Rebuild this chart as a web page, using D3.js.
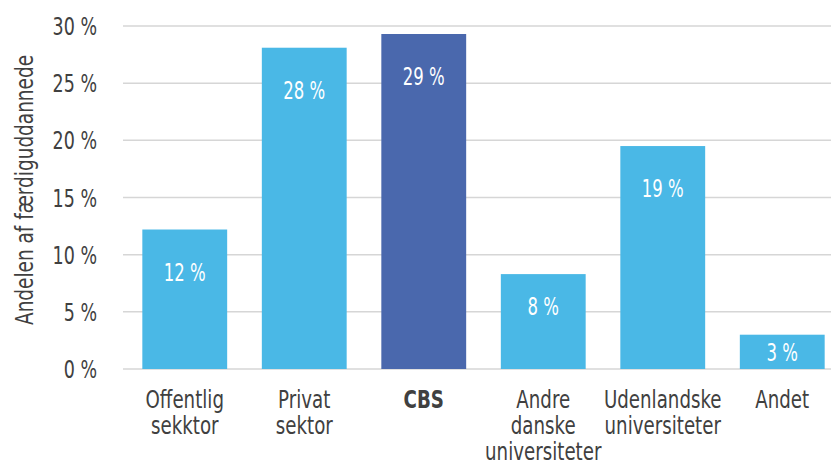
<!DOCTYPE html>
<html lang="da">
<head>
<meta charset="UTF-8">
<title>Færdiguddannede</title>
<script src="https://cdnjs.cloudflare.com/ajax/libs/d3/7.9.0/d3.min.js"></script>
<style>
    body { margin: 0; background: #fff; overflow: hidden; }
    text { font-family: 'DejaVu Sans', sans-serif; fill: #404040; }
</style>
</head>
<body>
<div id="root"></div>
<script>
    // data
    const categories = [
        ['Offentlig', 'sekktor'],
        ['Privat', 'sektor'],
        ['CBS'],
        ['Andre', 'danske', 'universiteter'],
        ['Udenlandske', 'universiteter'],
        ['Andet']
    ]
    const values = [12.2, 28.1, 29.3, 8.3, 19.5, 3.0]
    const valueLabels = ['12 %', '28 %', '29 %', '8 %', '19 %', '3 %']
    const yTicks = [0, 5, 10, 15, 20, 25, 30]
    const highlight = 2

    const w = 831, h = 466
    const margin = { top: 26, bottom: 97, left: 125 }
    // font is condensed in the original, squeeze text horizontally
    const squeeze = (x, y, s) => `translate(${x},${y}) scale(${s},1)`

    const svg = d3.select('#root').append('svg')
        .attr('width', w)
        .attr('height', h)

    const xScale = d3.scaleBand()
        .domain(d3.range(categories.length))
        .range([margin.left, 842])
        .paddingInner(0.29)
        .paddingOuter(0.145)

    const yScale = d3.scaleLinear()
        .domain([0, 30])
        .range([h - margin.bottom, margin.top])

    // gridlines
    svg.append('g')
        .selectAll('line')
        .data(yTicks)
        .enter()
        .append('line')
        .attr('x1', 123)
        .attr('x2', w)
        .attr('y1', d => yScale(d))
        .attr('y2', d => yScale(d))
        .style('stroke', '#d6d6d6')
        .style('stroke-width', 1.5)

    // y tick labels
    svg.append('g')
        .selectAll('text')
        .data(yTicks)
        .enter()
        .append('text')
        .attr('transform', d => squeeze(97, yScale(d), 0.7))
        .attr('dy', '0.36em')
        .attr('text-anchor', 'end')
        .style('font-size', '25px')
        .text(d => d + ' %')

    // y title
    svg.append('text')
        .attr('transform', 'translate(33,190) rotate(-90) scale(0.77,1)')
        .attr('text-anchor', 'middle')
        .style('font-size', '24px')
        .text('Andelen af færdiguddannede')

    // bars
    svg.append('g')
        .selectAll('rect')
        .data(values)
        .enter()
        .append('rect')
        .attr('x', (d, i) => xScale(i))
        .attr('y', d => yScale(d))
        .attr('width', xScale.bandwidth())
        .attr('height', d => yScale(0) - yScale(d))
        .style('fill', (d, i) => i === highlight ? '#4a68ad' : '#4ab8e6')

    // value labels
    svg.append('g')
        .selectAll('text')
        .data(values)
        .enter()
        .append('text')
        .attr('transform', (d, i) => {
            const bh = yScale(0) - yScale(d)
            const y = yScale(d) + (bh < 50 ? bh / 2 : Math.min(42, bh / 3))
            return squeeze(xScale(i) + xScale.bandwidth() / 2, y, 0.66)
        })
        .attr('dy', '0.36em')
        .attr('text-anchor', 'middle')
        .style('font-size', '25px')
        .style('fill', '#fff')
        .text((d, i) => valueLabels[i])

    // category labels
    const cat = svg.append('g')
        .selectAll('text')
        .data(categories)
        .enter()
        .append('text')
        .attr('text-anchor', 'middle')
        .attr('transform', (d, i) => squeeze(xScale(i) + xScale.bandwidth() / 2, 408, 0.76))
        .style('font-size', '24px')
        .style('font-weight', (d, i) => i === highlight ? 'bold' : 'normal')
    cat.selectAll('tspan')
        .data(d => d)
        .enter()
        .append('tspan')
        .attr('x', 0)
        .attr('y', (d, i) => i * 26)
        .text(d => d)
</script>
</body>
</html>
